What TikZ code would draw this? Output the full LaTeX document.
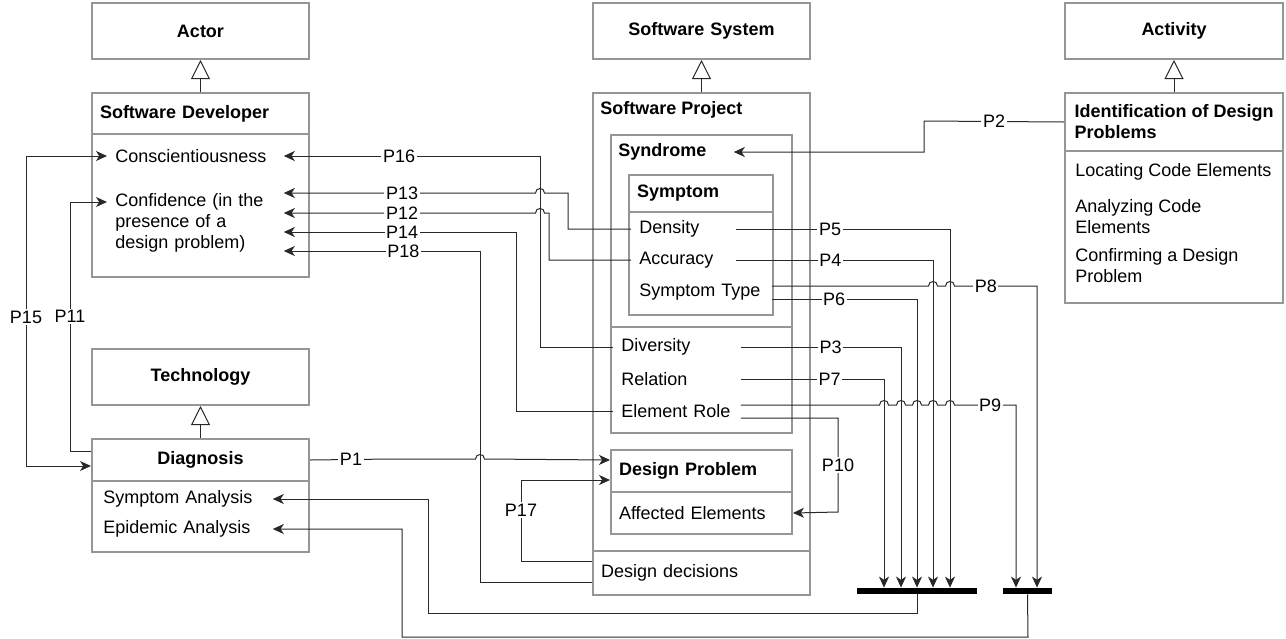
\documentclass[tikz,border=0pt]{standalone}
\usepackage{fontspec}
\setmainfont{Liberation Sans}
\usetikzlibrary{arrows.meta}

\definecolor{boxgray}{RGB}{150,150,150}
\definecolor{linegray}{RGB}{40,40,40}

\newcommand{\linehop}[3]{-- ({#1-(#3)},#2) .. controls ({#1-(#3)},{#2-6}) and ({#1+(#3)},{#2-6}) .. ({#1+(#3)},#2)}

\tikzset{
  cell/.style={draw=boxgray, line width=1pt, fill=white, anchor=north west, inner xsep=4pt, inner ysep=0pt, align=left},
  title/.style={font=\fontsize{9}{10.5}\selectfont\bfseries},
  item/.style={anchor=west, inner xsep=4pt, inner ysep=1pt, align=left},
  flow/.style={draw=linegray, line width=.5pt, ->},
  gen/.style={draw=linegray, line width=.5pt, -{Triangle[open,length=9.5pt,width=9.5pt,fill=white]}},
  lbl/.style={fill=white, inner sep=.8pt},
  bar/.style={fill=black, inner sep=0pt, minimum height=3pt},
}

\begin{document}
\begin{tikzpicture}[x=0.5pt,y=-0.5pt,font=\fontsize{9}{10.5}\selectfont,
  >={Stealth[length=5.5pt,width=5pt,inset=1.6pt]}]
\useasboundingbox (0,0) rectangle (1286,638);

\node[cell, title, align=center, text width=100.5pt, minimum height=28pt] (actor) at (91,2) {Actor};
\node[cell, title, align=center, text width=100.5pt, minimum height=28pt] (sys) at (592,2) {Software System};
\node[cell, title, align=center, text width=101pt, minimum height=28pt] (activ) at (1064,2) {Activity};

\node[cell, title, text width=100.5pt, minimum height=20.5pt] (devh) at (91,92) {Software Developer};
\node[cell, minimum width=108.5pt, minimum height=71.5pt] (devb) at (91,133) {};
\node[item, text width=80pt] (consc) at (107,156) {Conscientiousness};
\node[item, text width=80pt] (conf) at (107,223) {Confidence (in the\\presence of a\\design problem)};

\node[cell, title, align=center, text width=100.5pt, minimum height=28pt] (tech) at (91,348) {Technology};
\node[cell, title, align=center, text width=100.5pt, minimum height=21pt] (diagh) at (91,438) {Diagnosis};
\node[cell, minimum width=108.5pt, minimum height=35.5pt] (diagb) at (91,480) {};
\node[item, text width=80.5pt] (symana) at (95,499) {Symptom Analysis};
\node[item, text width=80.5pt] (epiana) at (95,529) {Epidemic Analysis};

\node[cell, minimum width=108.5pt, minimum height=251pt] (proj) at (592,92) {};
\node[item, title] (projt) at (592,110) {Software Project};
\node[cell, text width=100.5pt, minimum height=22pt] (dd) at (592,550) {Design decisions};
\node[cell, minimum width=90.5pt, minimum height=149pt] (synd) at (610,134) {};
\node[item, title, text width=53.5pt] (syndt) at (610,152) {Syndrome};
\node[cell, minimum width=90.5pt, minimum height=53pt] (syndb) at (610,326) {};
\node[cell, title, text width=64pt, minimum height=18.5pt] (symph) at (628,174) {Symptom};
\node[cell, minimum width=72pt, minimum height=51.5pt] (symb) at (628,211) {};
\node[item, text width=44pt] (dens) at (631,229) {Density};
\node[item, text width=44pt] (accu) at (631,260) {Accuracy};
\node[item, text width=62pt] (stype) at (631,292) {Symptom Type};
\node[item, text width=55.5pt] (divers) at (613,347) {Diversity};
\node[item, text width=55.5pt] (relat) at (613,379) {Relation};
\node[item, text width=55.5pt] (erole) at (613,411) {Element Role};
\node[cell, title, text width=82.5pt, minimum height=21pt] (dph) at (610,449) {Design Problem};
\node[cell, text width=82.5pt, minimum height=21pt] (dpb) at (610,491) {Affected Elements};

\node[cell, title, minimum width=109pt, minimum height=29pt] (identh) at (1064,92) {Identification of Design\\Problems};
\node[cell, minimum width=109pt, minimum height=76pt] (identb) at (1064,150) {};
\node[item] (locat) at (1067,172) {Locating Code Elements};
\node[item] (analy) at (1067,216.5) {Analyzing Code\\Elements};
\node[item] (confirm) at (1067,265.5) {Confirming a Design\\Problem};

\node[bar, minimum width=60pt] (bar1) at (917,591) {};
\node[bar, minimum width=24.5pt] (bar2) at (1027.5,591) {};

\draw[gen] (devh.north) -- (actor.south);
\draw[gen] (proj.north) -- (sys.south);
\draw[gen] (identh.north) -- (activ.south);
\draw[gen] (diagh.north) -- (tech.south);

\draw[flow] (diagh.east) -- node[lbl]{P1} (392,459) \linehop{480}{459}{4.5} -- (dph.west |- diagh.east);
\draw[flow] (identh.west) -- node[lbl]{P2} (924,121) |- (syndt.east);
\draw[flow] (divers.east) -- node[lbl,pos=.56]{P3} (901,347) -- (901,0 |- bar1.north);
\draw[flow] (accu.east) -- node[lbl,pos=.48]{P4} (933,260) -- (933,0 |- bar1.north);
\draw[flow] (dens.east) -- node[lbl,pos=.44]{P5} (950,229) -- (950,0 |- bar1.north);
\draw[flow] (stype.east |- 0,299) -- node[lbl,pos=.43]{P6} (917,299) -- (917,0 |- bar1.north);
\draw[flow] (relat.east) -- node[lbl,pos=.62]{P7} (884,379) -- (884,0 |- bar1.north);
\draw[flow] (stype.east |- 0,286) \linehop{933}{286}{4.5} \linehop{950}{286}{4.5} -- node[lbl,pos=.38]{P8} (1037,286) -- (1037,0 |- bar2.north);
\draw[flow] (erole.east |- 0,405) \linehop{884}{405}{4.5} \linehop{901}{405}{4.5} \linehop{917}{405}{4.5} \linehop{933}{405}{4.5} \linehop{950}{405}{4.5} -- node[lbl,pos=.58]{P9} (1016,405) -- (1016,0 |- bar2.north);
\draw[flow] (erole.east |- 0,418) -- (838,418) -- node[lbl]{P10} (838,512) -- (dpb.east);
\draw[flow] (diagh.west |- 0,451) -- (70,451) -- node[lbl,pos=.54]{P11} (70,202) -- (conf.west |- 0,202);
\draw[flow] (accu.west) -- (549,260) -- (549,213) \linehop{540}{213}{-4.5} -- node[lbl,pos=.53]{P12} (conf.east |- 0,213);
\draw[flow] (dens.west) -- (568,229) -- (568,193) \linehop{540}{193}{-4.5} -- node[lbl,pos=.53]{P13} (conf.east |- 0,193);
\draw[flow] (erole.west) -- (516,411) -- (516,232) -- node[lbl,pos=.49]{P14} (conf.east |- 0,232);
\draw[flow,<->] (consc.west) -- (26,156) -- node[lbl,pos=.52]{P15} (26,466) -- (diagh.west |- 0,466);
\draw[flow] (divers.west) -- (540,347) -- (540,156) -- node[lbl,pos=.55]{P16} (consc.east);
\draw[flow] (dd.west |- 0,561) -- (521,561) -- node[lbl,pos=.63]{P17} (521,480) -- (dph.west |- 0,480);
\draw[flow] (dd.west |- 0,582) -- (480,582) -- (480,251) -- node[lbl,pos=.39]{P18} (conf.east |- 0,251);

\draw[flow] (bar1.south) -- (917,613) -- (428,613) -- (428,499) -- (symana.east);
\draw[flow] (bar2.south) -- (1028,637) -- (402,637) -- (402,529) -- (epiana.east);
\end{tikzpicture}
\end{document}
